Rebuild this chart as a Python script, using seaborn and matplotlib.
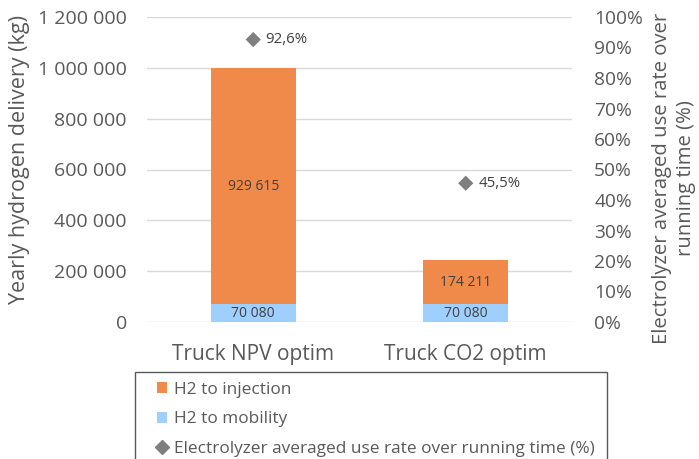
import matplotlib
matplotlib.use("Agg")
import matplotlib.pyplot as plt
import seaborn as sns
import pandas as pd
from matplotlib.patches import Patch, Rectangle
from matplotlib.lines import Line2D
from matplotlib.ticker import FuncFormatter, MultipleLocator

categories = ["Truck NPV optim", "Truck CO2 optim"]
h2_injection = [929615, 174211]
h2_mobility = [70080, 70080]
use_rate = [92.6, 45.5]

sns.set_theme(style="white")
plt.rcParams["font.family"] = ["Open Sans", "DejaVu Sans"]

grey = "#595959"
orange = "#F08A4B"
blue = "#9FCFFF"
mgrey = "#7F7F7F"

df = pd.DataFrame({"cat": categories,
                   "inj": h2_injection,
                   "mob": h2_mobility,
                   "rate": use_rate})
df["total"] = df["inj"] + df["mob"]

W, H = 699, 459
fig = plt.figure(figsize=(W/100, H/100), dpi=100)
ax = fig.add_axes([147/W, 1-322/H, (572-147)/W, (322-17)/H])

sns.barplot(data=df, x="cat", y="total", color=orange, width=0.4, ax=ax,
            saturation=1, edgecolor="none", linewidth=0)
sns.barplot(data=df, x="cat", y="mob", color=blue, width=0.4, ax=ax,
            saturation=1, edgecolor="none", linewidth=0)

ax.set_ylim(0, 1200000)
ax.set_xlim(-0.5, 1.5)
ax.yaxis.set_major_locator(MultipleLocator(200000))
ax.yaxis.set_major_formatter(FuncFormatter(lambda v, p: f"{int(v):,}".replace(",", " ")))
ax.grid(axis="y", color="#D9D9D9", linewidth=1)
ax.set_axisbelow(True)
for s in ax.spines.values():
    s.set_visible(False)
ax.tick_params(axis="y", length=0, labelsize=14, labelcolor=grey, pad=14.4)
ax.tick_params(axis="x", length=0, labelsize=15, labelcolor=grey, pad=16)
ax.set_xlabel("")
ax.set_ylabel("")

fmt = lambda v: f"{int(v):,}".replace(",", " ")
for i, (inj, mob) in enumerate(zip(h2_injection, h2_mobility)):
    ax.text(i, mob / 2, fmt(mob), ha="center", va="center", fontsize=10, color="#404040")
    ax.text(i, mob + inj / 2, fmt(inj), ha="center", va="center", fontsize=10, color="#404040")

ax2 = ax.twinx()
sns.scatterplot(data=df, x="cat", y="rate", marker="D", color=mgrey, s=60,
                edgecolor="none", ax=ax2, legend=False)
ax2.set_ylim(0, 100)
ax2.set_xlim(-0.5, 1.5)
ax2.yaxis.set_major_locator(MultipleLocator(10))
ax2.yaxis.set_major_formatter(FuncFormatter(lambda v, p: f"{int(round(v))}%"))
for s in ax2.spines.values():
    s.set_visible(False)
ax2.tick_params(axis="y", length=0, labelsize=13.8, labelcolor=grey, pad=16)
ax2.set_ylabel("")
ax2.set_xlabel("")
ax2.grid(False)
for i, r in enumerate(use_rate):
    ax2.annotate(f"{r:.1f}%".replace(".", ","), (i, r), xytext=(9, 0),
                 textcoords="offset points", va="center", ha="left",
                 fontsize=10.8, color="#404040")

fig.text(20/W, 1-160/H, "Yearly hydrogen delivery (kg)", rotation=90,
         ha="center", va="center", fontsize=15.5, color=grey)
fig.text(674/W, 1-178/H, "Electrolyzer averaged use rate over\nrunning time (%)",
         rotation=90, ha="center", va="center", fontsize=14.6, color=grey,
         multialignment="center", linespacing=1.3)

# legend frame
fig.patches.append(Rectangle((135/W, -0.05), (607-135)/W, (1-372/H) + 0.05,
                             transform=fig.transFigure, fill=False,
                             edgecolor="#595959", linewidth=1))

handles = [Patch(facecolor=orange, edgecolor="none", label="H2 to injection"),
           Patch(facecolor=blue, edgecolor="none", label="H2 to mobility"),
           Line2D([], [], marker="D", color=mgrey, linestyle="none", markersize=7,
                  label="Electrolyzer averaged use rate over running time (%)")]
leg = fig.legend(handles=handles, loc="upper left",
                 bbox_to_anchor=(157/W, 1-382/H),
                 ncol=1, fontsize=12.4, frameon=False,
                 handlelength=0.6, handleheight=0.6, handletextpad=0.4,
                 labelspacing=0.77, borderpad=0, borderaxespad=0)
for t in leg.get_texts():
    t.set_color(grey)

fig.savefig("out.png", dpi=100)
